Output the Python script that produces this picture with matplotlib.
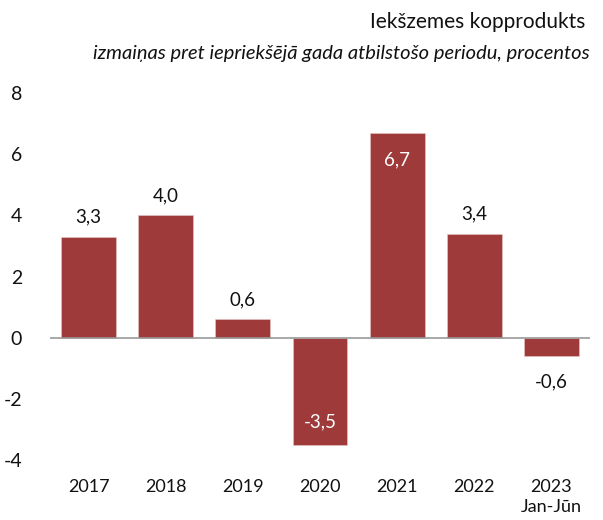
import matplotlib
matplotlib.use("Agg")
import matplotlib.pyplot as plt

plt.rcParams['font.family'] = ['Lato', 'DejaVu Sans']

years = ["2017", "2018", "2019", "2020", "2021", "2022", "2023\nJan-Jūn"]
growth = [3.3, 4.0, 0.6, -3.5, 6.7, 3.4, -0.6]
inside = [False, False, False, True, True, False, False]

bar_color = "#9e3a3a"

fig = plt.figure(figsize=(6.03, 5.2), dpi=100)
ax = fig.add_axes([50/603, 60/520, 540/603, 367/520])

x = range(len(years))
ax.bar(x, growth, width=0.71, color=bar_color, edgecolor="#e8c8c8", linewidth=0.4, zorder=2)
ax.axhline(0, color="#999999", linewidth=1.2, zorder=3)

for i, v in enumerate(growth):
    txt = f"{v:.1f}".replace(".", ",")
    if inside[i]:
        y = v - 0.9 if v > 0 else v + 0.75
        ax.text(i, y, txt, ha="center", va="center", color="white", fontsize=13.5)
    else:
        y = v + 0.65 if v > 0 else v - 0.85
        ax.text(i, y, txt, ha="center", va="center", color="#111111", fontsize=13.5)

ax.set_xlim(-0.5, 6.5)
ax.set_ylim(-4, 8)
ax.set_yticks([-4, -2, 0, 2, 4, 6, 8])
ax.set_yticklabels(["-4", "-2", "0", "2", "4", "6", "8"])
ax.set_xticks(list(x))
ax.set_xticklabels(years, va="top", linespacing=1.25)
ax.tick_params(axis="both", length=0, labelsize=13, colors="#111111")
ax.tick_params(axis="y", labelsize=14, pad=20)
ax.tick_params(axis="x", pad=14)
for s in ax.spines.values():
    s.set_visible(False)

fig.text(585/603, 1 - 22/520, "Iekšzemes kopprodukts", ha="right", va="center",
         fontsize=15, color="#111111")
fig.text(590/603, 1 - 53/520, "izmaiņas pret iepriekšējā gada atbilstošo periodu, procentos",
         ha="right", va="center", fontsize=14.5, style="italic", color="#111111")

fig.savefig("out.png", dpi=100)
